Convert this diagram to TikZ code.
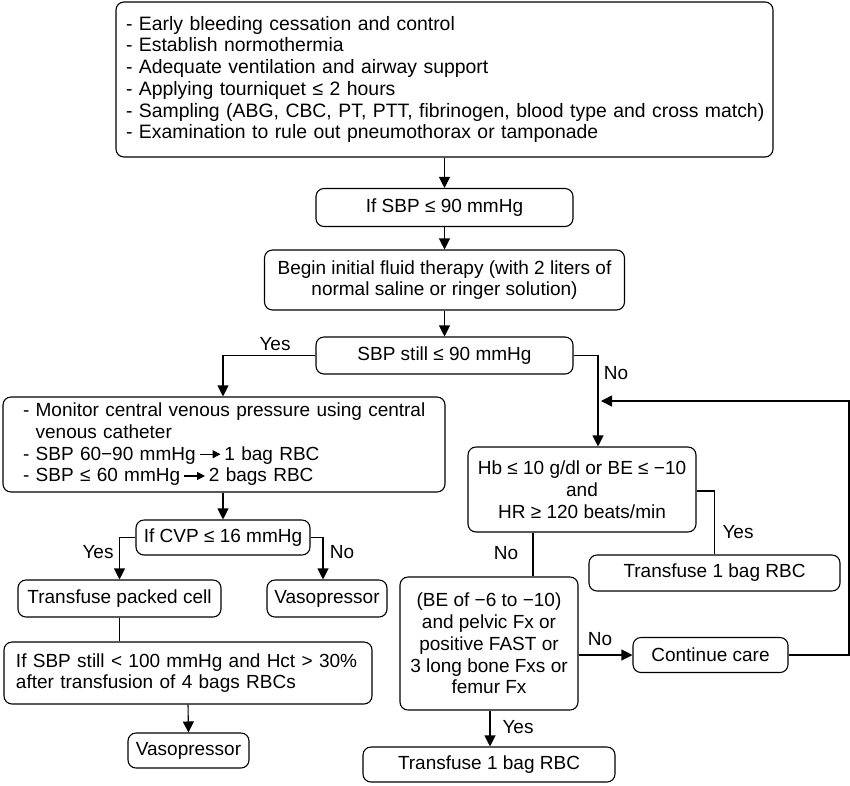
\documentclass[tikz,border=0pt]{standalone}
\usepackage{fontspec}
\setmainfont{Liberation Sans}
\usetikzlibrary{arrows.meta,calc}
\newcommand{\txtarrow}{\tikz[baseline=-0.6ex]\draw[line width=1.4pt,-{Triangle[length=8pt,width=8pt]}] (0pt,0pt)--(21pt,0pt);}
\begin{document}
\begin{tikzpicture}[x=1pt,y=-1pt,
  box/.style={draw,rounded corners=8pt,line width=1.1pt,inner sep=0pt,
    font=\fontsize{19}{21.7}\selectfont,align=center},
  arr/.style={line width=1.1pt,-{Triangle[length=11pt,width=11pt]}},
  ln/.style={line width=1.1pt},
  lbl/.style={font=\fontsize{19}{21.7}\selectfont,inner sep=0pt}]
\useasboundingbox[fill=white] (0,0) rectangle (850,785);

% top
\node[box,font=\fontsize{19.4}{21.7}\selectfont,minimum width=657pt,minimum height=155pt,text width=637pt,align=left] (top) at (444.5,79.5)
 {\mbox{- Early bleeding cessation and control}\\
  \mbox{- Establish normothermia}\\
  \mbox{- Adequate ventilation and airway support}\\
  \mbox{- Applying tourniquet ≤ 2 hours}\\
  \mbox{- Sampling (ABG, CBC, PT, PTT, fibrinogen, blood type and cross match)}\\
  \mbox{- Examination to rule out pneumothorax or tamponade}};
\node[box,minimum width=257pt,minimum height=38pt] (sbp1) at (444.5,207.5) {If SBP ≤ 90 mmHg};
\node[box,minimum width=360pt,minimum height=60pt] (fluid) at (444.5,280) {Begin initial fluid therapy (with 2 liters of\\normal saline or ringer solution)};
\node[box,minimum width=257pt,minimum height=37pt] (sbp2) at (444.5,355.5) {SBP still ≤ 90 mmHg};

% left branch
\node[box,minimum width=442pt,minimum height=95pt,text width=402pt,align=left] (mon) at (224,444.5)
 {\mbox{- Monitor central venous pressure using central}\\
  \mbox{\phantom{- }venous catheter}\\
  \mbox{- SBP 60−90 mmHg\,\txtarrow\,1 bag RBC}\\
  \mbox{- SBP ≤ 60 mmHg\,\txtarrow\,2 bags RBC}};
\node[box,minimum width=174pt,minimum height=35pt] (cvp) at (223,537.5) {If CVP ≤ 16 mmHg};
\node[box,minimum width=203pt,minimum height=37pt] (tpc) at (119.5,598.5) {Transfuse packed cell};
\node[box,minimum width=120pt,minimum height=37pt] (vaso1) at (327,598.5) {Vasopressor};
\node[box,minimum width=368pt,minimum height=62pt,text width=344pt,align=left] (ifsbp) at (188,673)
 {\mbox{If SBP still < 100 mmHg and Hct > 30\%}\\
  \mbox{after transfusion of 4 bags RBCs}};
\node[box,minimum width=121pt,minimum height=35pt] (vaso2) at (188.5,750.5) {Vasopressor};

% right branch
\node[box,minimum width=228pt,minimum height=85pt] (hb) at (582,489.5) {Hb ≤ 10 g/dl or BE ≤ −10\\and\\HR ≥ 120 beats/min};
\node[box,minimum width=251pt,minimum height=36pt] (tr1) at (714.5,573) {Transfuse 1 bag RBC};
\node[box,minimum width=178pt,minimum height=133pt] (be) at (489,643.5) {(BE of −6 to −10)\\and pelvic Fx or\\positive FAST or\\3 long bone Fxs or\\femur Fx};
\node[box,minimum width=155pt,minimum height=35pt] (cc) at (710.5,655) {Continue care};
\node[box,minimum width=252pt,minimum height=35pt] (tr2) at (489,764.5) {Transfuse 1 bag RBC};

\coordinate (loopR) at (849,401);
\coordinate (loopin) at (601,401);

% connectors
\draw[arr] (top.south) -- (sbp1.north);
\draw[arr] (sbp1.south) -- (fluid.north);
\draw[arr] (fluid.south) -- (sbp2.north);
\draw[arr] (sbp2.west) -| ([xshift=-1pt]mon.north);
\draw[arr] ([xshift=-1pt]mon.south) -- ([xshift=-1pt]mon.south |- cvp.north);
\draw[arr] (cvp.west) -| (tpc.north);
\draw[arr] (cvp.east) -| ([xshift=-4pt]vaso1.north);
\draw[ln] (tpc.south) -- (tpc.south |- ifsbp.north);
\draw[arr] (ifsbp.south) -- (vaso2.north);
\draw[arr] (sbp2.east) -| ([xshift=16pt]hb.north);
\draw[arr] (cc.east) -| (loopR) -- (loopin);
\draw[ln] ([yshift=-1.5pt]hb.east) -| (tr1.north);
\draw[ln] ([xshift=-49pt]hb.south) -- ([xshift=-49pt]hb.south |- be.north);
\draw[arr] (cc.west -| be.east) -- (cc.west);
\draw[arr] ([xshift=1pt]be.south) -- ([xshift=1pt]be.south |- tr2.north);

% labels
\node[lbl] (lyes1) at (275,344) {Yes};
\node[lbl] (lno1) at (616,373) {No};
\node[lbl] (lyes2) at (98,552) {Yes};
\node[lbl] (lno2) at (342,552) {No};
\node[lbl] (lno3) at (506,553) {No};
\node[lbl] (lyes3) at (738,532) {Yes};
\node[lbl] (lno4) at (600,639) {No};
\node[lbl] (lyes4) at (518,727) {Yes};
\end{tikzpicture}
\end{document}
